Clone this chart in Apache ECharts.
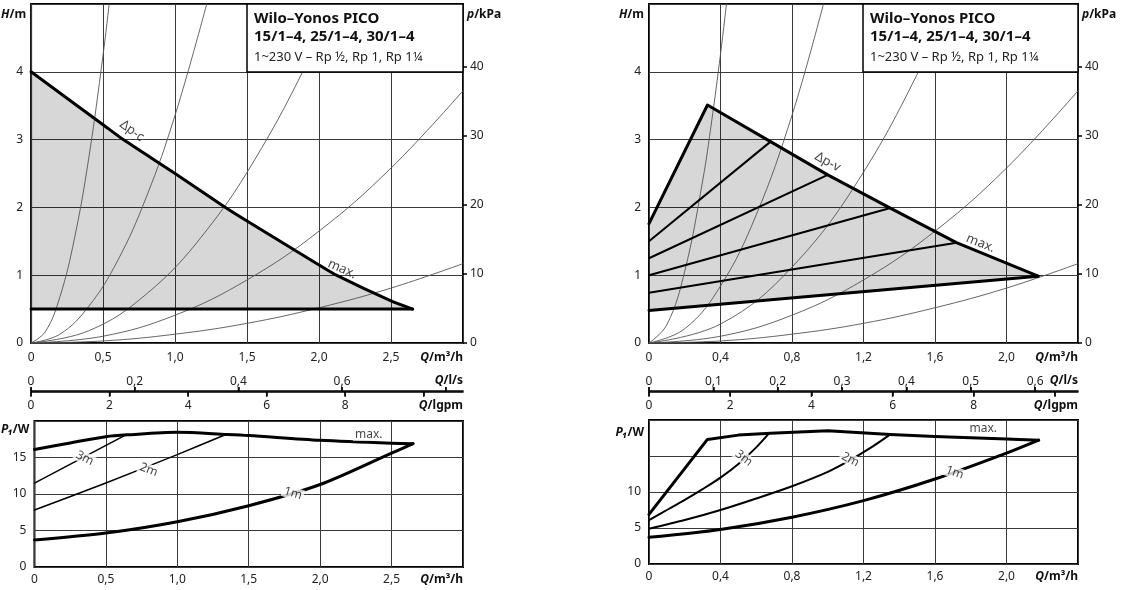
<!DOCTYPE html>
<html><head><meta charset="utf-8">
<script src="https://cdn.jsdelivr.net/npm/echarts@6/dist/echarts.min.js"></script>
<style>html,body{margin:0;padding:0;background:#fff}
#wrap{position:relative;width:1121px;height:590px}
#c,#s{position:absolute;left:0;top:0;width:1121px;height:590px}
#s{pointer-events:none}</style>
</head><body><div id="wrap"><div id="c"></div><div id="s"></div></div>
<script>
// ---------------- data ----------------
// Tick values
const ticksQ_L = [0, 0.5, 1.0, 1.5, 2.0, 2.5];
const ticksQ_R = [0, 0.4, 0.8, 1.2, 1.6, 2.0];
const ticksLs_L = [0, 0.2, 0.4, 0.6, 0.8];
const labelsLs_L = [0, 0.2, 0.4, 0.6];
const ticksLs_R = [0, 0.1, 0.2, 0.3, 0.4, 0.5, 0.6];
const ticksGpm = [0, 2, 4, 6, 8, 10];
const labelsGpm = [0, 2, 4, 6, 8];
const ticksH = [0, 1, 2, 3, 4];
const ticksKPa = [0, 10, 20, 30, 40];
const ticksP_L = [0, 5, 10, 15];
const ticksP_R = [0, 5, 10];

// Left top: Δp-c curve and minimum line  [Q m³/h, H m]
const dpcL = [[0, 4.0], [0.5, 3.22], [0.64, 3.0], [1.0, 2.5], [1.35, 2.0], [1.5, 1.8], [2.0, 1.15], [2.12, 1.0], [2.5, 0.62], [2.65, 0.5]];
const minL = [[0, 0.5], [2.65, 0.5]];
// System curves left top
const sysL = [
  [[0, 0], [0.1, 0.17], [0.2, 0.68], [0.3, 1.53], [0.4, 2.72], [0.5, 4.25], [0.545, 5.05]],
  [[0, 0], [0.2, 0.13], [0.4, 0.54], [0.6, 1.21], [0.8, 2.15], [1.0, 3.36], [1.22, 5.0]],
  [[0, 0], [0.4, 0.18], [0.8, 0.72], [1.2, 1.61], [1.6, 2.87], [2.0, 4.48], [2.11, 4.99]],
  [[0, 0], [0.5, 0.10], [1.0, 0.41], [1.5, 0.93], [2.0, 1.65], [2.5, 2.58], [3.0, 3.72]],
  [[0, 0], [0.5, 0.03], [1.0, 0.13], [1.5, 0.29], [2.0, 0.52], [2.5, 0.81], [3.0, 1.17]]
];
// Right top: Δp-v outline, bottom line, inner lines
const dpvR = [[0, 1.76], [0.327, 3.51], [0.68, 2.97], [1.0, 2.48], [1.35, 1.99], [1.72, 1.48], [2.177, 0.985]];
const minR = [[0, 0.48], [2.177, 0.985]];
const innerR = [
  [[0, 1.5], [0.68, 2.97]],
  [[0, 1.25], [1.0, 2.48]],
  [[0, 1.0], [1.35, 1.99]],
  [[0, 0.74], [1.72, 1.48]]
];
const sysR = [
  [[0, 0], [0.1, 0.27], [0.2, 1.06], [0.3, 2.39], [0.35, 3.26], [0.4, 4.26], [0.436, 5.06]],
  [[0, 0], [0.2, 0.21], [0.4, 0.84], [0.6, 1.89], [0.8, 3.36], [0.976, 5.0]],
  [[0, 0], [0.4, 0.28], [0.8, 1.12], [1.2, 2.52], [1.6, 4.48], [1.69, 5.0]],
  [[0, 0], [0.4, 0.10], [0.8, 0.41], [1.2, 0.93], [1.6, 1.65], [2.0, 2.58], [2.4, 3.72]],
  [[0, 0], [0.4, 0.03], [0.8, 0.13], [1.2, 0.29], [1.6, 0.52], [2.0, 0.81], [2.4, 1.17]]
];
// Bottom left: power [Q m³/h, P1 W]
const maxPL = [[0, 16.1], [0.25, 17.0], [0.5, 17.85], [0.65, 18.1], [1.0, 18.45], [1.35, 18.15], [1.5, 18.0], [2.0, 17.35], [2.5, 16.95], [2.65, 16.9]];
const oneL = [[0, 3.7], [0.5, 4.65], [1.0, 6.2], [1.5, 8.4], [2.0, 11.3], [2.5, 15.6], [2.65, 16.9]];
const twoL = [[0, 7.8], [0.5, 11.5], [1.0, 15.4], [1.34, 18.15]];
const threeL = [[0, 11.5], [0.64, 18.1]];
// Bottom right
const maxPR = [[0, 6.9], [0.327, 17.3], [0.5, 17.9], [0.68, 18.15], [1.0, 18.5], [1.35, 18.0], [1.6, 17.7], [2.0, 17.35], [2.18, 17.2]];
const oneR = [[0, 3.7], [0.4, 4.8], [0.8, 6.5], [1.2, 8.8], [1.6, 11.8], [2.0, 15.4], [2.18, 17.2]];
const twoR = [[0, 4.9], [0.2, 6.1], [0.4, 7.5], [0.6, 9.1], [0.8, 10.8], [1.0, 12.8], [1.13, 14.5], [1.25, 16.3], [1.35, 18.0]];
const threeR = [[0, 6.1], [0.1, 7.5], [0.2, 8.9], [0.3, 10.4], [0.4, 12.0], [0.5, 13.9], [0.6, 16.2], [0.67, 18.1]];
// In-chart annotations [Q, value, text]
const annTL = [[0.70, 3.13, 'Δp-c'], [2.16, 1.09, 'max.']];
const annTR = [[1.0, 2.67, 'Δp-v'], [1.855, 1.47, 'max.']];
const annBL = [[0.352, 14.9, '3m'], [0.80, 13.3, '2m'], [1.81, 10.1, '1m'], [2.34, 18.1, 'max.']];
const annBR = [[0.53, 14.7, '3m'], [1.126, 14.5, '2m'], [1.71, 12.7, '1m'], [1.87, 18.8, 'max.']];
const boxTitle = 'Wilo–Yonos PICO';
const boxModels = '15/1–4, 25/1–4, 30/1–4';
const boxSub = '1~230 V – Rp ½, Rp 1, Rp 1¼';

// ---------------- chart ----------------
const FONT = 'Noto Sans';
const QMAX_L = 3, QMAX_R = 2.4;
const M3H_PER_LS = 3.6, M3H_PER_IGPM = 0.272765, M3H_PER_USGPM = 0.227125;
const fmtDec = v => (Math.abs(v) < 1e-9 ? '0' : v.toFixed(1).replace('.', ','));
const fmtInt = v => String(Math.round(v));
const lblStyle = { color: '#222', fontFamily: FONT, fontSize: 12 };
const nameRich = { i: { fontStyle: 'italic', fontWeight: 'bold', fontFamily: FONT, fontSize: 12, color: '#111' } };
const nameStyle = (extra) => Object.assign({ fontWeight: 'bold', fontFamily: FONT, fontSize: 12, color: '#111', rich: nameRich }, extra);
const gridLine = { show: true, lineStyle: { color: '#3a3a3a', width: 1 } };

function mainX(gi, max, interval, labels, name, margin) {
  return {
    type: 'value', gridIndex: gi, min: 0, max: max, interval: interval,
    axisLine: { show: false }, axisTick: { show: false }, splitLine: gridLine,
    axisLabel: Object.assign({ customValues: labels, formatter: fmtDec, margin: margin }, lblStyle),
    name: name, nameLocation: 'end', nameGap: 0,
    nameTextStyle: nameStyle({ align: 'right', verticalAlign: 'top', padding: [margin, 0, 0, 0] })
  };
}
function mainY(gi, max, interval, labels, name, gap) {
  return {
    type: 'value', gridIndex: gi, min: 0, max: max, interval: interval,
    axisLine: { show: false }, axisTick: { show: false }, splitLine: gridLine,
    axisLabel: Object.assign({ customValues: labels, formatter: fmtInt, margin: 8 }, lblStyle),
    name: name, nameLocation: 'end', nameGap: gap,
    nameTextStyle: nameStyle({ align: 'right', verticalAlign: 'middle', padding: [0, 5, 0, 0] })
  };
}
function pAxis(gi) {
  return {
    type: 'value', gridIndex: gi, position: 'right', min: 0, max: 5 * 9.81,
    axisLine: { show: false },
    axisTick: { show: true, inside: false, length: 4, customValues: ticksKPa, lineStyle: { color: '#000', width: 1.5 } },
    splitLine: { show: false },
    axisLabel: Object.assign({ customValues: ticksKPa, formatter: fmtInt, margin: 7 }, lblStyle),
    name: '{i|p}/kPa', nameLocation: 'end', nameGap: -11,
    nameTextStyle: nameStyle({ align: 'left', verticalAlign: 'middle', padding: [0, 0, 0, 4] })
  };
}
function secX(gi, pos, max, ticks, labels, fmt, name) {
  const top = pos === 'top';
  return {
    type: 'value', gridIndex: gi, position: pos, min: 0, max: max,
    axisLine: { show: true, onZero: false, lineStyle: { color: '#000', width: 1.5 } },
    axisTick: { show: true, inside: false, length: 4, customValues: ticks, lineStyle: { color: '#000', width: 1.5 } },
    splitLine: { show: false },
    axisLabel: Object.assign({ customValues: labels, formatter: fmt, margin: top ? 3 : 8 }, lblStyle),
    name: name, nameLocation: 'end', nameGap: 0,
    nameTextStyle: nameStyle(top ? { align: 'right', verticalAlign: 'bottom', padding: [0, 0, 4, 0] }
                                 : { align: 'right', verticalAlign: 'top', padding: [8, 0, 0, 0] })
  };
}
function line(xi, yi, data, width, color, smooth, z) {
  return { type: 'line', xAxisIndex: xi, yAxisIndex: yi, data: data, showSymbol: false, symbol: 'none',
    smooth: smooth || false, silent: true, z: z || 3, animation: false, clip: true,
    lineStyle: { color: color, width: width, cap: 'round', join: 'round' } };
}
function poly(xi, yi, pts) {
  return { type: 'custom', xAxisIndex: xi, yAxisIndex: yi, data: [[0, 0]], silent: true, z: 1, animation: false,
    renderItem: (params, api) => ({ type: 'polygon', shape: { points: pts.map(p => api.coord(p)) },
      style: { fill: 'rgba(0,0,0,0.155)' } }) };
}
function ann(xi, yi, items, rots, bg, size) {
  return { type: 'scatter', xAxisIndex: xi, yAxisIndex: yi, symbolSize: 0, silent: true, z: 10, animation: false,
    data: items.map((a, k) => ({ value: [a[0], a[1]], label: { formatter: a[2], rotate: rots[k] } })),
    label: { show: true, position: 'inside', color: '#111', fontFamily: FONT, fontSize: size,
      backgroundColor: bg ? '#fff' : 'transparent', padding: bg ? [0, 2] : 0 } };
}

const series = [];
// top left (grid 0: x0, y0)
series.push(poly(0, 0, [[0, 0.5]].concat(dpcL)));
sysL.forEach(s => series.push(line(0, 0, s, 0.9, '#555', 0.4, 2)));
series.push(line(0, 0, dpcL, 3, '#000', 0.2, 4));
series.push(line(0, 0, minL, 3, '#000', false, 4));
series.push(ann(0, 0, annTL, [-36, -24], false, 13));
// top right (grid 1: x1, y2)
series.push(poly(1, 2, dpvR.concat([[0, 0.48]])));
sysR.forEach(s => series.push(line(1, 2, s, 0.9, '#555', 0.4, 2)));
innerR.forEach(s => series.push(line(1, 2, s, 2, '#000', false, 3)));
series.push(line(1, 2, dpvR, 3, '#000', false, 4));
series.push(line(1, 2, minR, 3, '#000', false, 4));
series.push(ann(1, 2, annTR, [-29, -22], false, 13));
// bottom left (grid 2: x2, y4)
series.push(line(2, 4, maxPL, 3, '#000', 0.3, 4));
series.push(line(2, 4, oneL, 3, '#000', 0.3, 4));
series.push(line(2, 4, twoL, 1.5, '#000', 0.2, 3));
series.push(line(2, 4, threeL, 1.5, '#000', false, 3));
series.push(ann(2, 4, annBL, [-27, -21, -17, 0], true, 12));
// bottom right (grid 3: x3, y5)
series.push(line(3, 5, maxPR, 3, '#000', false, 4));
series.push(line(3, 5, oneR, 3, '#000', 0.3, 4));
series.push(line(3, 5, twoR, 2, '#000', 0.3, 3));
series.push(line(3, 5, threeR, 2, '#000', 0.3, 3));
series.push(ann(3, 5, annBR, [-38, -28, -20, 0], true, 12));

function legendBox(x, w) {
  return { type: 'group', z: 100, children: [
    { type: 'rect', shape: { x: x, y: 4, width: w, height: 68 }, style: { fill: '#fff', stroke: '#000', lineWidth: 1.5 }, z: 100 },
    { type: 'text', x: x + 7, y: 18.5, z: 101, style: { text: boxTitle, font: 'bold 15px "' + FONT + '"', fill: '#111', verticalAlign: 'middle' } },
    { type: 'text', x: x + 7, y: 36.5, z: 101, style: { text: boxModels, font: 'bold 15px "' + FONT + '"', fill: '#111', verticalAlign: 'middle' } },
    { type: 'text', x: x + 7, y: 57, z: 101, style: { text: boxSub, font: '13px "' + FONT + '"', fill: '#222', verticalAlign: 'middle' } }
  ] };
}

const lsMaxL = QMAX_L / M3H_PER_LS, gpmMaxL = QMAX_L / M3H_PER_IGPM;
const lsMaxR = QMAX_R / M3H_PER_LS, gpmMaxR = QMAX_R / M3H_PER_USGPM;
const border = { show: true, borderColor: '#000', borderWidth: 2, backgroundColor: 'transparent' };
const option = {
  backgroundColor: '#fff',
  animation: false,
  grid: [
    Object.assign({ left: 31, top: 4, width: 432, height: 339 }, border),
    Object.assign({ left: 649, top: 4, width: 429, height: 339 }, border),
    Object.assign({ left: 31, top: 421, width: 432, height: 146 }, border),
    Object.assign({ left: 649, top: 420, width: 429, height: 144 }, border),
    { left: 31, top: 391, width: 432, height: 1, show: false },
    { left: 649, top: 391, width: 429, height: 1, show: false }
  ],
  xAxis: [
    mainX(0, QMAX_L, 0.5, ticksQ_L, '{i|Q}/m³/h', 9),
    mainX(1, QMAX_R, 0.4, ticksQ_R, '{i|Q}/m³/h', 9),
    mainX(2, QMAX_L, 0.5, ticksQ_L, '{i|Q}/m³/h', 7),
    mainX(3, QMAX_R, 0.4, ticksQ_R, '{i|Q}/m³/h', 7),
    secX(4, 'top', lsMaxL, ticksLs_L, labelsLs_L, fmtDec, '{i|Q}/l/s'),
    secX(4, 'bottom', gpmMaxL, ticksGpm, labelsGpm, fmtInt, '{i|Q}/lgpm'),
    secX(5, 'top', lsMaxR, ticksLs_R, ticksLs_R, fmtDec, '{i|Q}/l/s'),
    secX(5, 'bottom', gpmMaxR, ticksGpm, labelsGpm, fmtInt, '{i|Q}/lgpm')
  ],
  yAxis: [
    mainY(0, 5, 1, ticksH, '{i|H}/m', -11),
    pAxis(0),
    mainY(1, 5, 1, ticksH, '{i|H}/m', -11),
    pAxis(1),
    mainY(2, 20, 5, ticksP_L, '{i|P₁}/W', -9),
    mainY(3, 20, 5, ticksP_R, '{i|P₁}/W', -13),
    { type: 'value', gridIndex: 4, min: 0, max: 1, show: false },
    { type: 'value', gridIndex: 5, min: 0, max: 1, show: false }
  ],
  series: series,
  graphic: [legendBox(247, 216), legendBox(863, 215)]
};
const chart = echarts.init(document.getElementById('c'), null, { renderer: 'canvas' });
chart.setOption(option);

// Overlay: tick marks of the secondary flow scales (l/s up, lgpm down)
function hidX(gi, max) { return { type: 'value', gridIndex: gi, min: 0, max: max, show: false }; }
function hidY(gi) { return { type: 'value', gridIndex: gi, min: -1, max: 1, show: false }; }
function tickSeries(xi, yi, ticks, up) {
  return { type: 'scatter', xAxisIndex: xi, yAxisIndex: yi, symbol: 'rect', symbolSize: [1.5, 5],
    symbolOffset: [0, up ? -2.5 : 2.5], itemStyle: { color: '#000' }, data: ticks.map(v => [v, 0]) };
}
const tickChart = echarts.init(document.getElementById('s'), null, { renderer: 'canvas' });
tickChart.setOption({
  backgroundColor: 'transparent',
  animation: false,
  grid: [
    { left: 31, top: 372, width: 432, height: 40, show: false },
    { left: 649, top: 372, width: 429, height: 40, show: false }
  ],
  xAxis: [hidX(0, lsMaxL), hidX(0, gpmMaxL), hidX(1, lsMaxR), hidX(1, gpmMaxR)],
  yAxis: [hidY(0), hidY(1)],
  series: [
    tickSeries(0, 0, ticksLs_L, true),
    tickSeries(1, 0, ticksGpm, false),
    tickSeries(2, 1, ticksLs_R, true),
    tickSeries(3, 1, ticksGpm, false)
  ]
});
</script>
</body></html>
